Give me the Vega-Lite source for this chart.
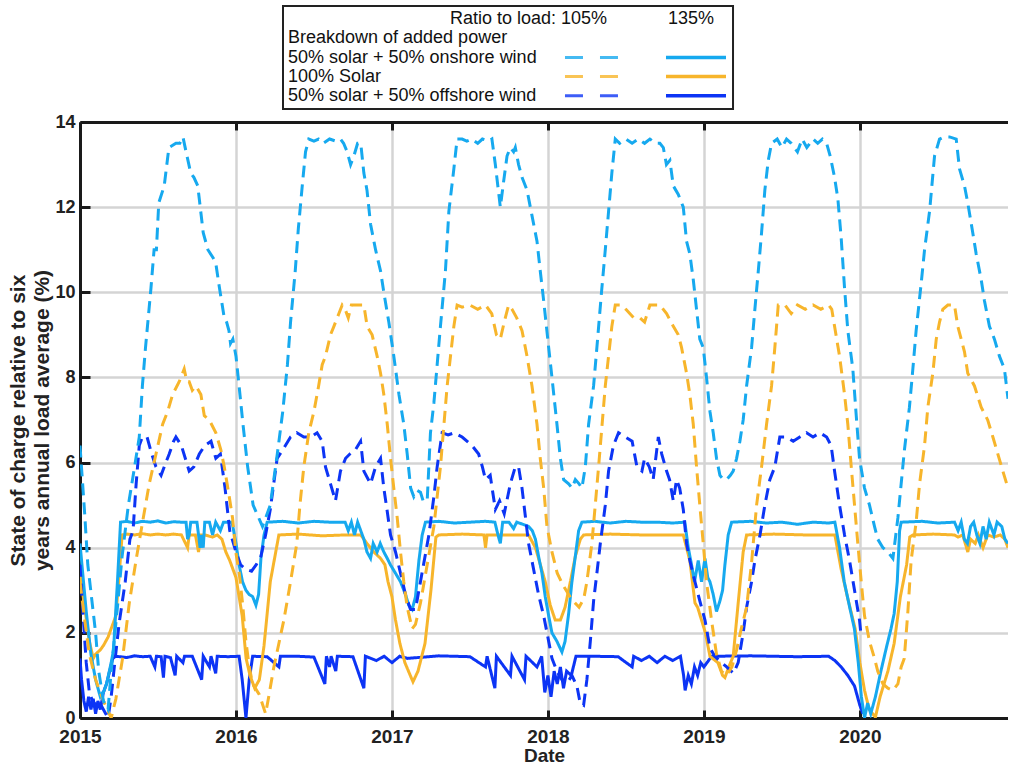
{
  "$schema": "https://vega.github.io/schema/vega-lite/v6.json",
  "background": "white",
  "padding": {"left": 7, "top": 5, "right": 0, "bottom": 0},
  "autosize": {"type": "pad"},
  "config": {"font": "Liberation Sans", "view": {"stroke": null}},
  "center": true,
  "spacing": 3,
  "datasets": {
    "onshore105": [
      {"year":2015,"soc":6.4},{"year":2015.015,"soc":5.6},{"year":2015.03,"soc":4.8},{"year":2015.05,"soc":3.6},{"year":2015.075,"soc":2.8},{"year":2015.1,"soc":2.0},{"year":2015.12,"soc":1.1},{"year":2015.15,"soc":0.4},{"year":2015.18,"soc":0.2},{"year":2015.2,"soc":1.1},{"year":2015.24,"soc":2.6},{"year":2015.27,"soc":3.8},{"year":2015.31,"soc":5.0},{"year":2015.35,"soc":5.9},{"year":2015.38,"soc":6.6},{"year":2015.4,"soc":7.8},{"year":2015.42,"soc":8.7},{"year":2015.455,"soc":10.1},{"year":2015.475,"soc":11.0},{"year":2015.49,"soc":11.0},{"year":2015.505,"soc":12.1},{"year":2015.54,"soc":12.5},{"year":2015.57,"soc":13.4},{"year":2015.615,"soc":13.5},{"year":2015.64,"soc":13.5},{"year":2015.66,"soc":13.65},{"year":2015.68,"soc":13.3},{"year":2015.71,"soc":12.8},{"year":2015.73,"soc":12.7},{"year":2015.755,"soc":12.5},{"year":2015.79,"soc":11.4},{"year":2015.82,"soc":11.0},{"year":2015.855,"soc":10.8},{"year":2015.87,"soc":10.7},{"year":2015.89,"soc":10.2},{"year":2015.925,"soc":9.4},{"year":2015.94,"soc":9.3},{"year":2015.955,"soc":9.1},{"year":2015.965,"soc":8.8},{"year":2015.98,"soc":8.9},{"year":2016.0,"soc":8.5},{"year":2016.02,"soc":7.8},{"year":2016.045,"soc":6.9},{"year":2016.075,"soc":5.9},{"year":2016.11,"soc":5.0},{"year":2016.14,"soc":4.75},{"year":2016.17,"soc":4.5},{"year":2016.2,"soc":4.8},{"year":2016.22,"soc":5.0},{"year":2016.265,"soc":6.2},{"year":2016.3,"soc":7.2},{"year":2016.33,"soc":8.3},{"year":2016.35,"soc":9.3},{"year":2016.38,"soc":10.5},{"year":2016.4,"soc":11.5},{"year":2016.425,"soc":12.5},{"year":2016.446,"soc":13.3},{"year":2016.467,"soc":13.6},{"year":2016.5,"soc":13.55},{"year":2016.53,"soc":13.6},{"year":2016.56,"soc":13.5},{"year":2016.6,"soc":13.6},{"year":2016.64,"soc":13.55},{"year":2016.67,"soc":13.6},{"year":2016.69,"soc":13.5},{"year":2016.713,"soc":13.3},{"year":2016.735,"soc":13.0},{"year":2016.756,"soc":13.2},{"year":2016.78,"soc":13.5},{"year":2016.8,"soc":13.5},{"year":2016.82,"soc":12.8},{"year":2016.84,"soc":12.4},{"year":2016.863,"soc":11.6},{"year":2016.895,"soc":11.0},{"year":2016.927,"soc":10.5},{"year":2016.948,"soc":10.0},{"year":2016.98,"soc":9.3},{"year":2017.012,"soc":8.5},{"year":2017.045,"soc":7.6},{"year":2017.076,"soc":6.9},{"year":2017.098,"soc":6.2},{"year":2017.12,"soc":5.4},{"year":2017.14,"soc":5.2},{"year":2017.16,"soc":5.35},{"year":2017.183,"soc":5.3},{"year":2017.2,"soc":5.1},{"year":2017.226,"soc":5.1},{"year":2017.247,"soc":6.7},{"year":2017.269,"soc":7.4},{"year":2017.29,"soc":8.3},{"year":2017.311,"soc":9.2},{"year":2017.343,"soc":10.5},{"year":2017.365,"soc":11.9},{"year":2017.397,"soc":12.9},{"year":2017.418,"soc":13.6},{"year":2017.45,"soc":13.6},{"year":2017.48,"soc":13.55},{"year":2017.51,"soc":13.6},{"year":2017.55,"soc":13.5},{"year":2017.58,"soc":13.6},{"year":2017.62,"soc":13.55},{"year":2017.641,"soc":13.6},{"year":2017.663,"soc":13.0},{"year":2017.695,"soc":12.0},{"year":2017.716,"soc":12.6},{"year":2017.738,"soc":13.2},{"year":2017.759,"soc":13.4},{"year":2017.78,"soc":13.3},{"year":2017.791,"soc":13.4},{"year":2017.812,"soc":13.0},{"year":2017.834,"soc":12.7},{"year":2017.866,"soc":12.4},{"year":2017.898,"soc":11.8},{"year":2017.93,"soc":11.2},{"year":2017.951,"soc":10.5},{"year":2017.973,"soc":9.8},{"year":2018.005,"soc":8.7},{"year":2018.026,"soc":8.0},{"year":2018.058,"soc":6.9},{"year":2018.08,"soc":6.1},{"year":2018.101,"soc":5.6},{"year":2018.133,"soc":5.5},{"year":2018.155,"soc":5.4},{"year":2018.176,"soc":5.6},{"year":2018.2,"soc":5.5},{"year":2018.218,"soc":5.4},{"year":2018.24,"soc":5.9},{"year":2018.261,"soc":6.9},{"year":2018.293,"soc":7.8},{"year":2018.314,"soc":8.7},{"year":2018.346,"soc":10.1},{"year":2018.368,"soc":11.0},{"year":2018.389,"soc":11.9},{"year":2018.41,"soc":12.8},{"year":2018.432,"soc":13.6},{"year":2018.46,"soc":13.5},{"year":2018.5,"soc":13.6},{"year":2018.54,"soc":13.5},{"year":2018.58,"soc":13.6},{"year":2018.62,"soc":13.5},{"year":2018.654,"soc":13.6},{"year":2018.69,"soc":13.5},{"year":2018.718,"soc":13.5},{"year":2018.74,"soc":13.4},{"year":2018.76,"soc":13.0},{"year":2018.782,"soc":13.1},{"year":2018.804,"soc":12.5},{"year":2018.836,"soc":12.3},{"year":2018.868,"soc":12.0},{"year":2018.889,"soc":11.2},{"year":2018.91,"soc":10.9},{"year":2018.932,"soc":10.3},{"year":2018.953,"soc":9.6},{"year":2018.974,"soc":8.9},{"year":2018.996,"soc":8.7},{"year":2019.017,"soc":8.0},{"year":2019.039,"soc":7.2},{"year":2019.06,"soc":6.7},{"year":2019.081,"soc":6.1},{"year":2019.103,"soc":5.7},{"year":2019.125,"soc":5.6},{"year":2019.146,"soc":5.6},{"year":2019.17,"soc":5.7},{"year":2019.188,"soc":5.8},{"year":2019.21,"soc":6.1},{"year":2019.231,"soc":6.5},{"year":2019.252,"soc":7.0},{"year":2019.274,"soc":7.8},{"year":2019.306,"soc":8.7},{"year":2019.327,"soc":9.6},{"year":2019.349,"soc":10.5},{"year":2019.37,"soc":11.4},{"year":2019.391,"soc":12.4},{"year":2019.413,"soc":13.1},{"year":2019.434,"soc":13.5},{"year":2019.47,"soc":13.6},{"year":2019.5,"soc":13.4},{"year":2019.53,"soc":13.6},{"year":2019.56,"soc":13.5},{"year":2019.6,"soc":13.3},{"year":2019.63,"soc":13.6},{"year":2019.66,"soc":13.4},{"year":2019.7,"soc":13.6},{"year":2019.73,"soc":13.5},{"year":2019.76,"soc":13.6},{"year":2019.787,"soc":13.5},{"year":2019.81,"soc":13.2},{"year":2019.838,"soc":12.7},{"year":2019.859,"soc":12.2},{"year":2019.88,"soc":11.3},{"year":2019.902,"soc":10.1},{"year":2019.923,"soc":9.1},{"year":2019.955,"soc":8.2},{"year":2019.977,"soc":7.1},{"year":2019.998,"soc":6.1},{"year":2020.03,"soc":5.4},{"year":2020.062,"soc":5.0},{"year":2020.094,"soc":4.5},{"year":2020.115,"soc":4.2},{"year":2020.148,"soc":4.0},{"year":2020.18,"soc":3.9},{"year":2020.212,"soc":3.75},{"year":2020.244,"soc":4.7},{"year":2020.265,"soc":5.5},{"year":2020.286,"soc":6.3},{"year":2020.318,"soc":7.3},{"year":2020.34,"soc":8.2},{"year":2020.361,"soc":9.1},{"year":2020.393,"soc":10.2},{"year":2020.415,"soc":11.0},{"year":2020.447,"soc":11.9},{"year":2020.479,"soc":13.2},{"year":2020.511,"soc":13.6},{"year":2020.54,"soc":13.65},{"year":2020.575,"soc":13.65},{"year":2020.618,"soc":13.6},{"year":2020.639,"soc":12.9},{"year":2020.671,"soc":12.5},{"year":2020.692,"soc":12.1},{"year":2020.724,"soc":11.4},{"year":2020.746,"soc":10.9},{"year":2020.778,"soc":10.3},{"year":2020.799,"soc":9.8},{"year":2020.831,"soc":9.2},{"year":2020.863,"soc":8.9},{"year":2020.895,"soc":8.5},{"year":2020.927,"soc":8.2},{"year":2020.95,"soc":7.5}
    ],
    "onshore135": [
      {"year":2015,"soc":4.1},{"year":2015.02,"soc":3.3},{"year":2015.04,"soc":2.5},{"year":2015.07,"soc":1.5},{"year":2015.1,"soc":0.9},{"year":2015.13,"soc":0.5},{"year":2015.15,"soc":0.6},{"year":2015.17,"soc":0.8},{"year":2015.2,"soc":1.3},{"year":2015.215,"soc":1.6},{"year":2015.24,"soc":3.2},{"year":2015.26,"soc":4.6},{"year":2015.3,"soc":4.62},{"year":2015.35,"soc":4.58},{"year":2015.4,"soc":4.62},{"year":2015.45,"soc":4.6},{"year":2015.5,"soc":4.63},{"year":2015.55,"soc":4.58},{"year":2015.6,"soc":4.61},{"year":2015.65,"soc":4.6},{"year":2015.68,"soc":4.6},{"year":2015.69,"soc":4.2},{"year":2015.7,"soc":4.3},{"year":2015.71,"soc":4.6},{"year":2015.75,"soc":4.6},{"year":2015.77,"soc":4.0},{"year":2015.78,"soc":4.3},{"year":2015.79,"soc":4.0},{"year":2015.8,"soc":4.6},{"year":2015.83,"soc":4.6},{"year":2015.85,"soc":4.3},{"year":2015.87,"soc":4.6},{"year":2015.9,"soc":4.4},{"year":2015.92,"soc":4.6},{"year":2015.95,"soc":4.6},{"year":2015.975,"soc":4.6},{"year":2016.0,"soc":4.1},{"year":2016.02,"soc":3.6},{"year":2016.042,"soc":3.2},{"year":2016.064,"soc":3.0},{"year":2016.085,"soc":2.9},{"year":2016.107,"soc":2.85},{"year":2016.128,"soc":2.65},{"year":2016.145,"soc":2.9},{"year":2016.16,"soc":3.75},{"year":2016.18,"soc":4.3},{"year":2016.2,"soc":4.6},{"year":2016.3,"soc":4.62},{"year":2016.4,"soc":4.58},{"year":2016.5,"soc":4.62},{"year":2016.6,"soc":4.6},{"year":2016.7,"soc":4.6},{"year":2016.72,"soc":4.4},{"year":2016.74,"soc":4.6},{"year":2016.76,"soc":4.3},{"year":2016.78,"soc":4.6},{"year":2016.8,"soc":4.4},{"year":2016.82,"soc":4.2},{"year":2016.84,"soc":3.9},{"year":2016.863,"soc":3.75},{"year":2016.88,"soc":4.1},{"year":2016.905,"soc":3.9},{"year":2016.925,"soc":4.1},{"year":2016.948,"soc":3.9},{"year":2016.97,"soc":3.75},{"year":2016.99,"soc":3.6},{"year":2017.023,"soc":3.4},{"year":2017.055,"soc":3.2},{"year":2017.087,"soc":2.9},{"year":2017.108,"soc":2.65},{"year":2017.13,"soc":2.55},{"year":2017.151,"soc":2.85},{"year":2017.173,"soc":3.7},{"year":2017.194,"soc":4.3},{"year":2017.215,"soc":4.6},{"year":2017.3,"soc":4.62},{"year":2017.4,"soc":4.58},{"year":2017.5,"soc":4.6},{"year":2017.6,"soc":4.62},{"year":2017.66,"soc":4.6},{"year":2017.68,"soc":4.3},{"year":2017.695,"soc":4.1},{"year":2017.71,"soc":4.6},{"year":2017.75,"soc":4.6},{"year":2017.78,"soc":4.45},{"year":2017.8,"soc":4.6},{"year":2017.84,"soc":4.55},{"year":2017.876,"soc":4.5},{"year":2017.9,"soc":4.4},{"year":2017.92,"soc":4.2},{"year":2017.94,"soc":3.8},{"year":2017.962,"soc":3.4},{"year":2017.983,"soc":2.85},{"year":2018.005,"soc":2.4},{"year":2018.026,"soc":2.0},{"year":2018.058,"soc":1.8},{"year":2018.09,"soc":1.55},{"year":2018.11,"soc":1.8},{"year":2018.133,"soc":2.45},{"year":2018.154,"soc":3.2},{"year":2018.176,"soc":3.8},{"year":2018.197,"soc":4.4},{"year":2018.218,"soc":4.6},{"year":2018.3,"soc":4.62},{"year":2018.4,"soc":4.58},{"year":2018.5,"soc":4.62},{"year":2018.6,"soc":4.6},{"year":2018.7,"soc":4.6},{"year":2018.8,"soc":4.58},{"year":2018.878,"soc":4.6},{"year":2018.9,"soc":4.0},{"year":2018.921,"soc":3.6},{"year":2018.94,"soc":3.2},{"year":2018.964,"soc":3.7},{"year":2018.985,"soc":3.2},{"year":2019.007,"soc":3.75},{"year":2019.025,"soc":3.3},{"year":2019.039,"soc":3.2},{"year":2019.06,"soc":2.9},{"year":2019.081,"soc":2.5},{"year":2019.103,"soc":2.75},{"year":2019.12,"soc":3.0},{"year":2019.135,"soc":3.6},{"year":2019.156,"soc":4.3},{"year":2019.178,"soc":4.6},{"year":2019.3,"soc":4.62},{"year":2019.4,"soc":4.58},{"year":2019.5,"soc":4.6},{"year":2019.6,"soc":4.55},{"year":2019.7,"soc":4.6},{"year":2019.8,"soc":4.58},{"year":2019.84,"soc":4.6},{"year":2019.87,"soc":4.0},{"year":2019.9,"soc":3.2},{"year":2019.935,"soc":2.6},{"year":2019.965,"soc":2.1},{"year":2019.99,"soc":1.3},{"year":2020.01,"soc":0.5},{"year":2020.03,"soc":0.0},{"year":2020.05,"soc":0.35},{"year":2020.07,"soc":0.1},{"year":2020.1,"soc":0.5},{"year":2020.135,"soc":1.1},{"year":2020.17,"soc":1.65},{"year":2020.2,"soc":2.1},{"year":2020.22,"soc":2.45},{"year":2020.24,"soc":3.2},{"year":2020.255,"soc":4.4},{"year":2020.265,"soc":4.6},{"year":2020.4,"soc":4.62},{"year":2020.5,"soc":4.58},{"year":2020.607,"soc":4.6},{"year":2020.63,"soc":4.4},{"year":2020.65,"soc":4.6},{"year":2020.67,"soc":4.2},{"year":2020.69,"soc":4.1},{"year":2020.71,"soc":4.5},{"year":2020.73,"soc":4.6},{"year":2020.75,"soc":4.3},{"year":2020.77,"soc":4.1},{"year":2020.79,"soc":4.5},{"year":2020.81,"soc":4.2},{"year":2020.83,"soc":4.6},{"year":2020.86,"soc":4.3},{"year":2020.88,"soc":4.6},{"year":2020.91,"soc":4.5},{"year":2020.93,"soc":4.2},{"year":2020.95,"soc":4.1}
    ],
    "solar105": [
      {"year":2015,"soc":3.2},{"year":2015.03,"soc":2.3},{"year":2015.06,"soc":1.5},{"year":2015.1,"soc":0.9},{"year":2015.15,"soc":0.4},{"year":2015.2,"soc":0.0},{"year":2015.23,"soc":0.45},{"year":2015.273,"soc":1.4},{"year":2015.316,"soc":2.7},{"year":2015.359,"soc":3.7},{"year":2015.401,"soc":4.6},{"year":2015.444,"soc":5.5},{"year":2015.487,"soc":6.2},{"year":2015.53,"soc":6.9},{"year":2015.562,"soc":7.2},{"year":2015.594,"soc":7.6},{"year":2015.636,"soc":7.9},{"year":2015.668,"soc":8.2},{"year":2015.685,"soc":7.9},{"year":2015.7,"soc":7.9},{"year":2015.72,"soc":7.7},{"year":2015.743,"soc":7.8},{"year":2015.775,"soc":7.6},{"year":2015.797,"soc":7.1},{"year":2015.829,"soc":7.0},{"year":2015.871,"soc":6.7},{"year":2015.903,"soc":6.3},{"year":2015.925,"soc":5.9},{"year":2015.957,"soc":5.2},{"year":2015.978,"soc":4.7},{"year":2015.999,"soc":3.9},{"year":2016.021,"soc":3.4},{"year":2016.042,"soc":2.7},{"year":2016.064,"soc":1.8},{"year":2016.085,"soc":1.2},{"year":2016.107,"soc":0.8},{"year":2016.15,"soc":0.55},{"year":2016.19,"soc":0.1},{"year":2016.21,"soc":0.5},{"year":2016.243,"soc":1.2},{"year":2016.307,"soc":2.3},{"year":2016.35,"soc":3.2},{"year":2016.39,"soc":4.1},{"year":2016.41,"soc":5.0},{"year":2016.435,"soc":5.9},{"year":2016.467,"soc":6.7},{"year":2016.5,"soc":7.2},{"year":2016.53,"soc":7.8},{"year":2016.553,"soc":8.3},{"year":2016.574,"soc":8.5},{"year":2016.606,"soc":9.0},{"year":2016.628,"soc":9.2},{"year":2016.66,"soc":9.5},{"year":2016.681,"soc":9.7},{"year":2016.7,"soc":9.6},{"year":2016.72,"soc":9.4},{"year":2016.74,"soc":9.7},{"year":2016.78,"soc":9.7},{"year":2016.82,"soc":9.7},{"year":2016.841,"soc":9.2},{"year":2016.873,"soc":9.0},{"year":2016.905,"soc":8.5},{"year":2016.927,"soc":8.1},{"year":2016.948,"soc":7.6},{"year":2016.97,"soc":6.9},{"year":2016.991,"soc":6.1},{"year":2017.012,"soc":5.4},{"year":2017.034,"soc":4.7},{"year":2017.055,"soc":3.9},{"year":2017.076,"soc":3.2},{"year":2017.098,"soc":2.6},{"year":2017.13,"soc":2.1},{"year":2017.151,"soc":2.2},{"year":2017.183,"soc":2.7},{"year":2017.226,"soc":3.6},{"year":2017.269,"soc":4.5},{"year":2017.311,"soc":5.9},{"year":2017.354,"soc":7.8},{"year":2017.397,"soc":9.2},{"year":2017.418,"soc":9.7},{"year":2017.45,"soc":9.65},{"year":2017.5,"soc":9.7},{"year":2017.55,"soc":9.6},{"year":2017.6,"soc":9.7},{"year":2017.64,"soc":9.5},{"year":2017.67,"soc":9.0},{"year":2017.695,"soc":8.9},{"year":2017.72,"soc":9.3},{"year":2017.748,"soc":9.7},{"year":2017.77,"soc":9.6},{"year":2017.8,"soc":9.4},{"year":2017.834,"soc":9.1},{"year":2017.866,"soc":8.5},{"year":2017.898,"soc":7.8},{"year":2017.93,"soc":6.9},{"year":2017.951,"soc":6.1},{"year":2017.973,"soc":5.4},{"year":2017.994,"soc":4.5},{"year":2018.026,"soc":3.9},{"year":2018.06,"soc":3.4},{"year":2018.1,"soc":3.1},{"year":2018.15,"soc":2.8},{"year":2018.2,"soc":2.6},{"year":2018.23,"soc":2.8},{"year":2018.25,"soc":3.2},{"year":2018.282,"soc":4.1},{"year":2018.325,"soc":5.9},{"year":2018.368,"soc":7.8},{"year":2018.41,"soc":9.2},{"year":2018.432,"soc":9.7},{"year":2018.47,"soc":9.7},{"year":2018.5,"soc":9.6},{"year":2018.55,"soc":9.4},{"year":2018.59,"soc":9.4},{"year":2018.62,"soc":9.3},{"year":2018.654,"soc":9.7},{"year":2018.718,"soc":9.7},{"year":2018.761,"soc":9.5},{"year":2018.804,"soc":9.2},{"year":2018.836,"soc":9.0},{"year":2018.857,"soc":8.7},{"year":2018.889,"soc":8.1},{"year":2018.91,"soc":7.6},{"year":2018.932,"soc":6.9},{"year":2018.953,"soc":5.9},{"year":2018.974,"soc":5.0},{"year":2018.996,"soc":4.1},{"year":2019.017,"soc":3.2},{"year":2019.049,"soc":2.3},{"year":2019.081,"soc":1.5},{"year":2019.113,"soc":1.1},{"year":2019.145,"soc":1.0},{"year":2019.18,"soc":1.2},{"year":2019.21,"soc":1.6},{"year":2019.24,"soc":2.1},{"year":2019.274,"soc":2.6},{"year":2019.306,"soc":3.65},{"year":2019.338,"soc":5.0},{"year":2019.37,"soc":5.9},{"year":2019.402,"soc":6.9},{"year":2019.434,"soc":7.8},{"year":2019.455,"soc":8.7},{"year":2019.477,"soc":9.7},{"year":2019.52,"soc":9.7},{"year":2019.56,"soc":9.5},{"year":2019.6,"soc":9.7},{"year":2019.65,"soc":9.6},{"year":2019.7,"soc":9.7},{"year":2019.75,"soc":9.6},{"year":2019.8,"soc":9.7},{"year":2019.82,"soc":9.6},{"year":2019.838,"soc":9.2},{"year":2019.87,"soc":8.5},{"year":2019.902,"soc":7.6},{"year":2019.923,"soc":6.9},{"year":2019.945,"soc":5.9},{"year":2019.966,"soc":5.0},{"year":2019.987,"soc":4.1},{"year":2020.009,"soc":3.2},{"year":2020.03,"soc":2.4},{"year":2020.062,"soc":1.8},{"year":2020.094,"soc":1.4},{"year":2020.115,"soc":1.1},{"year":2020.148,"soc":0.8},{"year":2020.18,"soc":0.7},{"year":2020.212,"soc":0.65},{"year":2020.244,"soc":0.8},{"year":2020.265,"soc":1.2},{"year":2020.285,"soc":1.4},{"year":2020.308,"soc":2.5},{"year":2020.329,"soc":3.7},{"year":2020.361,"soc":4.6},{"year":2020.383,"soc":5.5},{"year":2020.415,"soc":6.4},{"year":2020.436,"soc":7.3},{"year":2020.468,"soc":8.1},{"year":2020.49,"soc":8.9},{"year":2020.511,"soc":9.3},{"year":2020.532,"soc":9.6},{"year":2020.564,"soc":9.7},{"year":2020.607,"soc":9.7},{"year":2020.628,"soc":9.2},{"year":2020.65,"soc":8.9},{"year":2020.671,"soc":8.6},{"year":2020.692,"soc":8.1},{"year":2020.735,"soc":7.8},{"year":2020.778,"soc":7.3},{"year":2020.82,"soc":7.0},{"year":2020.853,"soc":6.6},{"year":2020.885,"soc":6.2},{"year":2020.917,"soc":5.8},{"year":2020.95,"soc":5.4}
    ],
    "solar135": [
      {"year":2015,"soc":3.4},{"year":2015.03,"soc":2.6},{"year":2015.06,"soc":1.8},{"year":2015.085,"soc":1.4},{"year":2015.1,"soc":1.5},{"year":2015.13,"soc":1.6},{"year":2015.15,"soc":1.7},{"year":2015.18,"soc":1.9},{"year":2015.2,"soc":2.1},{"year":2015.23,"soc":2.4},{"year":2015.25,"soc":3.3},{"year":2015.27,"soc":4.3},{"year":2015.3,"soc":4.32},{"year":2015.35,"soc":4.3},{"year":2015.4,"soc":4.33},{"year":2015.45,"soc":4.3},{"year":2015.5,"soc":4.32},{"year":2015.55,"soc":4.3},{"year":2015.6,"soc":4.32},{"year":2015.65,"soc":4.3},{"year":2015.69,"soc":4.0},{"year":2015.7,"soc":4.3},{"year":2015.74,"soc":4.3},{"year":2015.76,"soc":3.9},{"year":2015.775,"soc":4.3},{"year":2015.8,"soc":4.3},{"year":2015.85,"soc":4.25},{"year":2015.88,"soc":4.3},{"year":2015.91,"soc":4.2},{"year":2015.935,"soc":3.9},{"year":2015.96,"soc":3.7},{"year":2016.0,"soc":3.3},{"year":2016.04,"soc":2.4},{"year":2016.065,"soc":1.4},{"year":2016.09,"soc":1.0},{"year":2016.12,"soc":0.7},{"year":2016.15,"soc":0.9},{"year":2016.18,"soc":1.7},{"year":2016.22,"soc":3.2},{"year":2016.275,"soc":4.3},{"year":2016.4,"soc":4.32},{"year":2016.55,"soc":4.28},{"year":2016.7,"soc":4.3},{"year":2016.8,"soc":4.3},{"year":2016.84,"soc":4.1},{"year":2016.884,"soc":3.9},{"year":2016.927,"soc":3.75},{"year":2016.955,"soc":3.6},{"year":2016.975,"soc":3.2},{"year":2017.0,"soc":2.85},{"year":2017.023,"soc":2.3},{"year":2017.051,"soc":1.75},{"year":2017.083,"soc":1.3},{"year":2017.135,"soc":0.85},{"year":2017.167,"soc":1.1},{"year":2017.212,"soc":1.75},{"year":2017.25,"soc":3.0},{"year":2017.282,"soc":4.25},{"year":2017.3,"soc":4.3},{"year":2017.45,"soc":4.32},{"year":2017.59,"soc":4.3},{"year":2017.6,"soc":4.0},{"year":2017.61,"soc":4.3},{"year":2017.75,"soc":4.3},{"year":2017.876,"soc":4.3},{"year":2017.92,"soc":4.0},{"year":2017.94,"soc":3.75},{"year":2017.983,"soc":3.2},{"year":2018.015,"soc":2.65},{"year":2018.047,"soc":2.3},{"year":2018.08,"soc":2.3},{"year":2018.11,"soc":2.6},{"year":2018.144,"soc":3.2},{"year":2018.176,"soc":3.8},{"year":2018.208,"soc":4.2},{"year":2018.229,"soc":4.3},{"year":2018.4,"soc":4.32},{"year":2018.6,"soc":4.3},{"year":2018.868,"soc":4.3},{"year":2018.91,"soc":3.7},{"year":2018.943,"soc":2.7},{"year":2018.96,"soc":2.6},{"year":2018.985,"soc":2.3},{"year":2019.01,"soc":2.0},{"year":2019.039,"soc":1.45},{"year":2019.09,"soc":1.3},{"year":2019.12,"soc":1.0},{"year":2019.135,"soc":0.95},{"year":2019.16,"soc":1.2},{"year":2019.188,"soc":1.45},{"year":2019.22,"soc":2.7},{"year":2019.252,"soc":3.9},{"year":2019.274,"soc":4.3},{"year":2019.45,"soc":4.32},{"year":2019.65,"soc":4.3},{"year":2019.84,"soc":4.3},{"year":2019.88,"soc":3.5},{"year":2019.92,"soc":2.85},{"year":2019.97,"soc":2.1},{"year":2020.0,"soc":1.3},{"year":2020.03,"soc":0.65},{"year":2020.06,"soc":0.2},{"year":2020.1,"soc":0.02},{"year":2020.13,"soc":0.5},{"year":2020.18,"soc":1.1},{"year":2020.22,"soc":1.75},{"year":2020.26,"soc":2.85},{"year":2020.3,"soc":3.6},{"year":2020.32,"soc":4.25},{"year":2020.34,"soc":4.3},{"year":2020.47,"soc":4.32},{"year":2020.607,"soc":4.3},{"year":2020.63,"soc":4.25},{"year":2020.66,"soc":4.3},{"year":2020.692,"soc":3.9},{"year":2020.71,"soc":4.2},{"year":2020.74,"soc":4.1},{"year":2020.76,"soc":4.3},{"year":2020.79,"soc":4.0},{"year":2020.82,"soc":4.3},{"year":2020.86,"soc":4.25},{"year":2020.9,"soc":4.3},{"year":2020.93,"soc":4.2},{"year":2020.95,"soc":4.0}
    ],
    "offshore105": [
      {"year":2015,"soc":3.6},{"year":2015.02,"soc":2.4},{"year":2015.04,"soc":1.3},{"year":2015.06,"soc":0.6},{"year":2015.09,"soc":0.3},{"year":2015.12,"soc":0.4},{"year":2015.15,"soc":0.2},{"year":2015.18,"soc":0.0},{"year":2015.2,"soc":0.5},{"year":2015.22,"soc":1.2},{"year":2015.25,"soc":2.2},{"year":2015.29,"soc":3.2},{"year":2015.32,"soc":4.2},{"year":2015.34,"soc":4.4},{"year":2015.36,"soc":5.5},{"year":2015.38,"soc":6.4},{"year":2015.4,"soc":6.6},{"year":2015.43,"soc":6.6},{"year":2015.46,"soc":6.2},{"year":2015.487,"soc":5.9},{"year":2015.52,"soc":5.7},{"year":2015.55,"soc":6.0},{"year":2015.572,"soc":6.2},{"year":2015.6,"soc":6.5},{"year":2015.615,"soc":6.6},{"year":2015.65,"soc":6.4},{"year":2015.7,"soc":5.8},{"year":2015.73,"soc":5.9},{"year":2015.765,"soc":6.2},{"year":2015.8,"soc":6.4},{"year":2015.84,"soc":6.5},{"year":2015.871,"soc":6.1},{"year":2015.9,"soc":6.2},{"year":2015.93,"soc":5.4},{"year":2015.96,"soc":4.4},{"year":2016.0,"soc":3.9},{"year":2016.03,"soc":3.6},{"year":2016.06,"soc":3.5},{"year":2016.1,"soc":3.45},{"year":2016.13,"soc":3.6},{"year":2016.16,"soc":3.8},{"year":2016.19,"soc":4.3},{"year":2016.22,"soc":4.9},{"year":2016.264,"soc":6.1},{"year":2016.3,"soc":6.3},{"year":2016.35,"soc":6.6},{"year":2016.39,"soc":6.7},{"year":2016.435,"soc":6.6},{"year":2016.48,"soc":6.6},{"year":2016.52,"soc":6.7},{"year":2016.553,"soc":6.5},{"year":2016.574,"soc":5.9},{"year":2016.606,"soc":5.5},{"year":2016.638,"soc":5.1},{"year":2016.67,"soc":5.8},{"year":2016.703,"soc":6.1},{"year":2016.73,"soc":6.2},{"year":2016.766,"soc":6.3},{"year":2016.799,"soc":6.5},{"year":2016.82,"soc":5.8},{"year":2016.863,"soc":5.5},{"year":2016.895,"soc":5.9},{"year":2016.927,"soc":6.1},{"year":2016.948,"soc":5.4},{"year":2016.97,"soc":4.85},{"year":2016.991,"soc":4.3},{"year":2017.023,"soc":3.9},{"year":2017.055,"soc":3.4},{"year":2017.087,"soc":2.9},{"year":2017.119,"soc":2.55},{"year":2017.151,"soc":2.55},{"year":2017.173,"soc":3.0},{"year":2017.205,"soc":3.65},{"year":2017.237,"soc":4.3},{"year":2017.269,"soc":5.2},{"year":2017.29,"soc":5.9},{"year":2017.322,"soc":6.7},{"year":2017.36,"soc":6.65},{"year":2017.4,"soc":6.7},{"year":2017.45,"soc":6.6},{"year":2017.513,"soc":6.4},{"year":2017.556,"soc":6.2},{"year":2017.58,"soc":5.9},{"year":2017.6,"soc":5.6},{"year":2017.63,"soc":5.7},{"year":2017.663,"soc":4.9},{"year":2017.69,"soc":5.1},{"year":2017.72,"soc":4.8},{"year":2017.759,"soc":5.5},{"year":2017.791,"soc":5.9},{"year":2017.812,"soc":5.9},{"year":2017.834,"soc":5.4},{"year":2017.855,"soc":4.75},{"year":2017.876,"soc":4.1},{"year":2017.908,"soc":3.5},{"year":2017.94,"soc":2.9},{"year":2017.973,"soc":2.4},{"year":2018.005,"soc":1.8},{"year":2018.026,"soc":1.4},{"year":2018.058,"soc":1.1},{"year":2018.09,"soc":0.9},{"year":2018.12,"soc":0.8},{"year":2018.154,"soc":1.0},{"year":2018.186,"soc":0.75},{"year":2018.207,"soc":0.35},{"year":2018.229,"soc":0.3},{"year":2018.25,"soc":0.9},{"year":2018.272,"soc":1.8},{"year":2018.293,"soc":2.75},{"year":2018.314,"soc":3.4},{"year":2018.336,"soc":4.1},{"year":2018.368,"soc":5.0},{"year":2018.389,"soc":5.8},{"year":2018.42,"soc":6.4},{"year":2018.453,"soc":6.7},{"year":2018.496,"soc":6.6},{"year":2018.54,"soc":6.5},{"year":2018.571,"soc":5.9},{"year":2018.603,"soc":5.8},{"year":2018.62,"soc":6.1},{"year":2018.65,"soc":5.9},{"year":2018.675,"soc":5.6},{"year":2018.708,"soc":6.6},{"year":2018.73,"soc":6.2},{"year":2018.761,"soc":5.8},{"year":2018.78,"soc":5.6},{"year":2018.804,"soc":5.1},{"year":2018.825,"soc":5.6},{"year":2018.845,"soc":5.4},{"year":2018.868,"soc":4.9},{"year":2018.889,"soc":4.1},{"year":2018.91,"soc":3.7},{"year":2018.943,"soc":3.2},{"year":2018.974,"soc":2.75},{"year":2019.007,"soc":2.3},{"year":2019.039,"soc":1.65},{"year":2019.07,"soc":1.45},{"year":2019.113,"soc":1.3},{"year":2019.146,"soc":1.2},{"year":2019.19,"soc":1.05},{"year":2019.22,"soc":1.3},{"year":2019.252,"soc":2.0},{"year":2019.274,"soc":2.6},{"year":2019.306,"soc":3.2},{"year":2019.327,"soc":3.7},{"year":2019.36,"soc":4.3},{"year":2019.391,"soc":5.0},{"year":2019.423,"soc":5.6},{"year":2019.455,"soc":5.9},{"year":2019.487,"soc":6.6},{"year":2019.53,"soc":6.6},{"year":2019.573,"soc":6.5},{"year":2019.615,"soc":6.6},{"year":2019.658,"soc":6.7},{"year":2019.7,"soc":6.6},{"year":2019.744,"soc":6.7},{"year":2019.787,"soc":6.6},{"year":2019.816,"soc":6.4},{"year":2019.838,"soc":5.8},{"year":2019.87,"soc":5.0},{"year":2019.902,"soc":4.3},{"year":2019.934,"soc":3.7},{"year":2019.966,"soc":3.0},{"year":2019.998,"soc":2.3},{"year":2020.009,"soc":1.9}
    ],
    "offshore135": [
      {"year":2015,"soc":1.4},{"year":2015.01,"soc":0.9},{"year":2015.025,"soc":0.4},{"year":2015.04,"soc":0.15},{"year":2015.055,"soc":0.5},{"year":2015.07,"soc":0.2},{"year":2015.085,"soc":0.45},{"year":2015.1,"soc":0.1},{"year":2015.115,"soc":0.4},{"year":2015.13,"soc":0.2},{"year":2015.15,"soc":0.6},{"year":2015.17,"soc":0.8},{"year":2015.19,"soc":1.1},{"year":2015.21,"soc":1.4},{"year":2015.23,"soc":1.45},{"year":2015.3,"soc":1.42},{"year":2015.35,"soc":1.46},{"year":2015.4,"soc":1.44},{"year":2015.45,"soc":1.45},{"year":2015.48,"soc":1.2},{"year":2015.49,"soc":1.45},{"year":2015.52,"soc":1.44},{"year":2015.535,"soc":0.95},{"year":2015.545,"soc":1.45},{"year":2015.58,"soc":1.42},{"year":2015.61,"soc":1.0},{"year":2015.62,"soc":1.45},{"year":2015.66,"soc":1.3},{"year":2015.67,"soc":1.45},{"year":2015.72,"soc":1.45},{"year":2015.78,"soc":0.9},{"year":2015.79,"soc":1.45},{"year":2015.83,"soc":1.2},{"year":2015.84,"soc":1.45},{"year":2015.87,"soc":1.05},{"year":2015.88,"soc":1.45},{"year":2015.95,"soc":1.44},{"year":2016.02,"soc":1.45},{"year":2016.04,"soc":0.9},{"year":2016.064,"soc":0.0},{"year":2016.085,"soc":0.9},{"year":2016.107,"soc":1.45},{"year":2016.2,"soc":1.44},{"year":2016.275,"soc":1.2},{"year":2016.285,"soc":1.45},{"year":2016.4,"soc":1.45},{"year":2016.5,"soc":1.43},{"year":2016.57,"soc":0.8},{"year":2016.58,"soc":1.45},{"year":2016.6,"soc":1.2},{"year":2016.61,"soc":1.45},{"year":2016.64,"soc":1.1},{"year":2016.65,"soc":1.45},{"year":2016.75,"soc":1.44},{"year":2016.82,"soc":0.7},{"year":2016.83,"soc":1.45},{"year":2016.9,"soc":1.35},{"year":2016.95,"soc":1.45},{"year":2017.0,"soc":1.3},{"year":2017.05,"soc":1.45},{"year":2017.1,"soc":1.4},{"year":2017.3,"soc":1.46},{"year":2017.5,"soc":1.44},{"year":2017.6,"soc":1.2},{"year":2017.61,"soc":1.45},{"year":2017.66,"soc":0.7},{"year":2017.67,"soc":1.45},{"year":2017.76,"soc":1.0},{"year":2017.77,"soc":1.45},{"year":2017.85,"soc":0.9},{"year":2017.86,"soc":1.45},{"year":2017.93,"soc":1.2},{"year":2017.96,"soc":1.45},{"year":2017.98,"soc":0.6},{"year":2018.0,"soc":1.0},{"year":2018.02,"soc":0.5},{"year":2018.04,"soc":1.1},{"year":2018.06,"soc":0.8},{"year":2018.08,"soc":1.2},{"year":2018.1,"soc":0.7},{"year":2018.12,"soc":1.1},{"year":2018.15,"soc":1.0},{"year":2018.18,"soc":1.45},{"year":2018.3,"soc":1.45},{"year":2018.45,"soc":1.44},{"year":2018.54,"soc":1.2},{"year":2018.55,"soc":1.45},{"year":2018.6,"soc":1.35},{"year":2018.65,"soc":1.45},{"year":2018.7,"soc":1.3},{"year":2018.75,"soc":1.45},{"year":2018.8,"soc":1.35},{"year":2018.85,"soc":1.45},{"year":2018.87,"soc":1.0},{"year":2018.88,"soc":0.65},{"year":2018.9,"soc":1.0},{"year":2018.92,"soc":0.8},{"year":2018.94,"soc":1.2},{"year":2018.96,"soc":1.0},{"year":2018.98,"soc":1.3},{"year":2019.0,"soc":1.2},{"year":2019.05,"soc":1.45},{"year":2019.3,"soc":1.46},{"year":2019.6,"soc":1.44},{"year":2019.8,"soc":1.45},{"year":2019.84,"soc":1.35},{"year":2019.88,"soc":1.2},{"year":2019.923,"soc":1.0},{"year":2019.966,"soc":0.75},{"year":2020.0,"soc":0.3},{"year":2020.02,"soc":0.1}
    ]
  },
  "vconcat": [
    {
      "width": 522,
      "height": 103,
      "layer": [
        {
          "data": {"values": [{"frame": "legend"}]},
          "mark": {"type": "rect", "filled": false, "color": "#222222", "strokeWidth": 2},
          "encoding": {
            "x": {"datum": 19.5, "type": "quantitative", "scale": {"domain": [19.5, 165.84], "nice": false, "zero": false}, "axis": null},
            "x2": {"datum": 145.66}
          }
        },
        {
          "data": {"values": [
            {"row": "breakdown", "label": "Breakdown of added power"},
            {"row": "onshore", "label": "50% solar + 50% onshore wind"},
            {"row": "solar", "label": "100% Solar"},
            {"row": "offshore", "label": "50% solar + 50% offshore wind"}
          ]},
          "mark": {"type": "text", "align": "left", "baseline": "middle", "fontSize": 18, "color": "#111111"},
          "encoding": {
            "x": {"datum": 20.9, "type": "quantitative"},
            "y": {"field": "row", "type": "nominal", "scale": {"type": "point", "domain": ["head", "breakdown", "onshore", "solar", "offshore"], "padding": 0.7}, "axis": null},
            "text": {"field": "label"}
          }
        },
        {
          "data": {"values": [{"row": "head", "ratio": 105, "label": "Ratio to load:"}]},
          "mark": {"type": "text", "align": "right", "baseline": "middle", "fontSize": 18, "dx": -32, "color": "#111111"},
          "encoding": {
            "x": {"field": "ratio", "type": "quantitative"},
            "y": {"field": "row", "type": "nominal"},
            "text": {"field": "label"}
          }
        },
        {
          "data": {"values": [{"row": "head", "ratio": 105, "label": "105%"}, {"row": "head", "ratio": 135, "label": "135%"}]},
          "mark": {"type": "text", "align": "center", "baseline": "middle", "fontSize": 18, "dx": -4, "color": "#111111"},
          "encoding": {
            "x": {"field": "ratio", "type": "quantitative"},
            "y": {"field": "row", "type": "nominal"},
            "text": {"field": "label"}
          }
        },
        {
          "data": {"values": [{"row": "onshore", "ratio": 105}, {"row": "solar", "ratio": 105}, {"row": "offshore", "ratio": 105}]},
          "mark": {"type": "rule", "strokeWidth": 3, "strokeDash": [18, 17], "xOffset": -23, "x2Offset": 30, "opacity": 0.8},
          "encoding": {
            "x": {"field": "ratio", "type": "quantitative"},
            "x2": {"field": "ratio"},
            "y": {"field": "row", "type": "nominal"},
            "color": {"field": "row", "type": "nominal", "scale": {"domain": ["onshore", "solar", "offshore"], "range": ["#16a9ef", "#f7b52b", "#0c34f5"]}, "legend": null}
          }
        },
        {
          "data": {"values": [{"row": "onshore", "ratio": 135}, {"row": "solar", "ratio": 135}, {"row": "offshore", "ratio": 135}]},
          "mark": {"type": "rule", "strokeWidth": 3.5, "xOffset": -29, "x2Offset": 31},
          "encoding": {
            "x": {"field": "ratio", "type": "quantitative"},
            "x2": {"field": "ratio"},
            "y": {"field": "row", "type": "nominal"},
            "color": {"field": "row", "type": "nominal", "legend": null}
          }
        }
      ]
    },
    {
      "width": 928,
      "height": 596,
      "resolve": {"axis": {"x": "independent"}},
      "encoding": {
        "x": {"field": "year", "type": "quantitative", "scale": {"domain": [2015, 2020.95], "nice": false, "zero": false}},
        "y": {"field": "soc", "type": "quantitative", "scale": {"domain": [0, 14], "nice": false}},
        "color": {"datum": "onshore", "type": "nominal", "scale": {"domain": ["onshore", "solar", "offshore"], "range": ["#16a9ef", "#f7b52b", "#0c34f5"]}, "legend": null},
        "strokeDash": {"datum": "105%", "type": "nominal", "scale": {"domain": ["105%", "135%"], "range": [[12, 7], [1, 0]]}, "legend": null}
      },
      "layer": [
        {
          "data": {"name": "offshore135"},
          "mark": {"type": "line", "strokeWidth": 3, "clip": true},
          "encoding": {
            "x": {"field": "year", "type": "quantitative", "axis": {
              "orient": "bottom", "values": [2015, 2016, 2017, 2018, 2019, 2020], "format": "d", "labelFlush": false,
              "title": "Date", "grid": true, "gridColor": "#d4d4d4", "gridWidth": 2.5,
              "domainColor": "#1a1a1a", "domainWidth": 3, "tickColor": "#1a1a1a", "tickWidth": 3, "tickSize": -8,
              "labelPadding": 17, "labelFontSize": 19, "labelFontWeight": "bold", "labelColor": "#222222",
              "titleFontSize": 19, "titleFontWeight": "bold", "titleColor": "#222222", "titlePadding": 0
            }},
            "y": {"field": "soc", "type": "quantitative", "axis": {
              "values": [0, 2, 4, 6, 8, 10, 12, 14], "grid": true, "gridColor": "#d4d4d4", "gridWidth": 2.5,
              "domainColor": "#1a1a1a", "domainWidth": 3, "tickColor": "#1a1a1a", "tickWidth": 3, "tickSize": -10,
              "labelPadding": 15, "labelFontSize": 18, "labelFontWeight": "bold", "labelColor": "#222222",
              "title": ["State of charge relative to six", "years annual load average (%)"],
              "titleFontSize": 21, "titleFontWeight": "bold", "titleColor": "#222222", "titleLineHeight": 24, "titlePadding": 2
            }},
            "color": {"datum": "offshore"},
            "strokeDash": {"datum": "135%"}
          }
        },
        {
          "data": {"name": "solar135"},
          "mark": {"type": "line", "strokeWidth": 3, "clip": true},
          "encoding": {"x": {"field": "year", "type": "quantitative", "axis": null}, "color": {"datum": "solar"}, "strokeDash": {"datum": "135%"}}
        },
        {
          "data": {"name": "onshore135"},
          "mark": {"type": "line", "strokeWidth": 3, "clip": true},
          "encoding": {"x": {"field": "year", "type": "quantitative", "axis": null}, "color": {"datum": "onshore"}, "strokeDash": {"datum": "135%"}}
        },
        {
          "data": {"name": "offshore105"},
          "mark": {"type": "line", "strokeWidth": 3, "clip": true},
          "encoding": {"x": {"field": "year", "type": "quantitative", "axis": null}, "color": {"datum": "offshore"}, "strokeDash": {"datum": "105%"}}
        },
        {
          "data": {"name": "solar105"},
          "mark": {"type": "line", "strokeWidth": 3, "clip": true},
          "encoding": {"x": {"field": "year", "type": "quantitative", "axis": null}, "color": {"datum": "solar"}, "strokeDash": {"datum": "105%"}}
        },
        {
          "data": {"name": "onshore105"},
          "mark": {"type": "line", "strokeWidth": 3, "clip": true},
          "encoding": {"x": {"field": "year", "type": "quantitative", "axis": null}, "color": {"datum": "onshore"}, "strokeDash": {"datum": "105%"}}
        },
        {
          "data": {"values": []},
          "mark": {"type": "point", "opacity": 0},
          "encoding": {"x": {"field": "year", "type": "quantitative", "axis": {
            "orient": "top", "values": [2015, 2016, 2017, 2018, 2019, 2020], "labels": false, "title": null, "grid": false,
            "domainColor": "#1a1a1a", "domainWidth": 3, "tickColor": "#1a1a1a", "tickWidth": 3, "tickSize": -8
          }}}
        }
      ]
    }
  ]
}
